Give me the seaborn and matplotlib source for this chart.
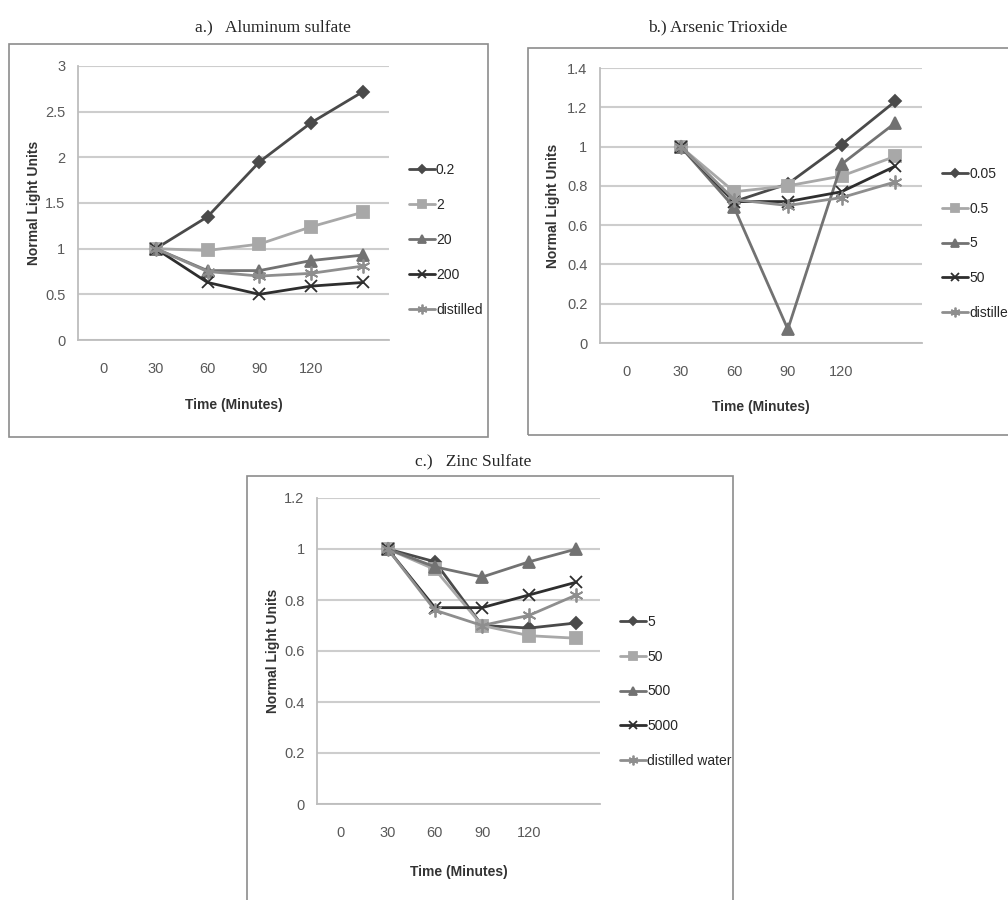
import matplotlib
matplotlib.use("Agg")
import numpy as np
import pandas as pd
import matplotlib.pyplot as plt
import seaborn as sns
from matplotlib.patches import Rectangle
from matplotlib.ticker import FormatStrFormatter

# --------------------------------------------------------------------------
# data
# --------------------------------------------------------------------------
times = [30, 60, 90, 120, 150]
tick_pos = [0, 30, 60, 90, 120]
tick_labels = ["0", "30", "60", "90", "120"]

# a.) Aluminum sulfate
al_series = ["0.2", "2", "20", "200", "distilled"]
al_02 = [1.0, 1.35, 1.95, 2.38, 2.72]
al_2 = [1.0, 0.98, 1.05, 1.24, 1.40]
al_20 = [1.0, 0.76, 0.76, 0.87, 0.93]
al_200 = [1.0, 0.63, 0.50, 0.59, 0.63]
al_dist = [1.0, 0.75, 0.70, 0.73, 0.81]

# b.) Arsenic Trioxide
as_series = ["0.05", "0.5", "5", "50", "distilled"]
as_005 = [1.0, 0.72, 0.81, 1.01, 1.23]
as_05 = [1.0, 0.77, 0.80, 0.85, 0.95]
as_5 = [1.0, 0.69, 0.07, 0.91, 1.12]
as_50 = [1.0, 0.72, 0.72, 0.77, 0.90]
as_dist = [1.0, 0.73, 0.70, 0.74, 0.82]

# c.) Zinc Sulfate
zn_series = ["5", "50", "500", "5000", "distilled water"]
zn_5 = [1.0, 0.95, 0.70, 0.69, 0.71]
zn_50 = [1.0, 0.92, 0.70, 0.66, 0.65]
zn_500 = [1.0, 0.93, 0.89, 0.95, 1.00]
zn_5000 = [1.0, 0.77, 0.77, 0.82, 0.87]
zn_dist = [1.0, 0.76, 0.70, 0.74, 0.82]

# Excel-ish grey series styles
SERIES_COLORS = ["#4a4a4a", "#a8a8a8", "#727272", "#2e2e2e", "#8e8e8e"]
SNS_MARKERS = ["D", "s", "^", "X", "P"]      # seaborn wants all filled
MARKERS = ["D", "s", "^", "x", (6, 2, 0)]    # swapped in afterwards
MSIZES = [6, 8, 8, 9, 10]

SANS = ["Liberation Sans", "DejaVu Sans"]
SERIF = ["Liberation Serif", "DejaVu Serif"]

W, H = 1008, 900

sns.set_style("white")
plt.rcParams["font.family"] = SANS


def long_df(series, values):
    rows = []
    for name, vals in zip(series, values):
        for t, v in zip(times, vals):
            rows.append({"time": t, "value": v, "series": name})
    return pd.DataFrame(rows)


def px_axes(fig, l, t, r, b):
    return fig.add_axes([l / W, 1 - b / H, (r - l) / W, (b - t) / H])


def border(fig, l, t, r, b):
    fig.add_artist(Rectangle((l / W, 1 - b / H), (r - l) / W, (b - t) / H,
                             transform=fig.transFigure, fill=False,
                             ec="#8c8c8c", lw=1.2, clip_on=False))


def style_marker(line, marker, ms):
    line.set_marker(marker)
    line.set_markeredgecolor(line.get_color())
    line.set_markerfacecolor(line.get_color())
    line.set_markersize(ms)
    line.set_markeredgewidth(1.3)


def draw_panel(ax, series, values, ymax, ystep, leg_xy, xlab_y, ylab_x):
    df = long_df(series, values)
    sns.lineplot(data=df, x="time", y="value", hue="series", style="series",
                 hue_order=series, style_order=series,
                 palette=dict(zip(series, SERIES_COLORS)),
                 markers=dict(zip(series, SNS_MARKERS)), dashes=False,
                 lw=2, ax=ax, sort=False)
    for line, mk, ms in zip(ax.lines, MARKERS, MSIZES):
        style_marker(line, mk, ms)
        line.set_clip_on(False)

    handles, labels = ax.get_legend_handles_labels()
    if ax.get_legend() is not None:
        ax.get_legend().remove()
    for h, mk, ms in zip(handles, MARKERS, MSIZES):
        style_marker(h, mk, ms * 0.7)
        h.set_linewidth(2)
    ax.legend(handles, labels, loc="center left", bbox_to_anchor=leg_xy,
              frameon=False, borderaxespad=0, borderpad=0, handlelength=1.9,
              handletextpad=0.05, labelspacing=1.5,
              prop={"family": SANS, "size": 10})

    ax.set_xlim(-15, 165)
    ax.set_ylim(0, ymax)
    ax.set_xticks(tick_pos)
    ax.set_xticklabels(tick_labels)
    ax.set_xticks([-15, 15, 45, 75, 105, 135, 165], minor=True)
    ax.set_yticks(np.arange(0, ymax + ystep / 2, ystep))
    ax.yaxis.set_major_formatter(FormatStrFormatter("%g"))
    ax.tick_params(axis="x", which="major", length=0, pad=16,
                   labelsize=10.5, labelcolor="#595959")
    ax.tick_params(axis="x", which="minor", length=5, width=1,
                   color="#bdbdbd", direction="out")
    ax.tick_params(axis="y", length=5, width=1, color="#bdbdbd",
                   direction="out", pad=4, labelsize=10.5, labelcolor="#595959")

    ax.yaxis.grid(True, color="#cdcdcd", lw=1.5)
    ax.set_axisbelow(True)
    ax.set_facecolor("none")
    for side in ["top", "right"]:
        ax.spines[side].set_visible(False)
    for side in ["left", "bottom"]:
        ax.spines[side].set_color("#bdbdbd")
        ax.spines[side].set_linewidth(1.3)

    ax.set_xlabel("Time (Minutes)", fontsize=10, fontweight="bold",
                  color="#333333")
    ax.set_ylabel("Normal Light Units", fontsize=10, fontweight="bold",
                  color="#333333")
    ax.xaxis.set_label_coords(0.5, xlab_y)
    ax.xaxis.label.set_va("center")
    ax.yaxis.set_label_coords(ylab_x, 0.5)
    ax.yaxis.label.set_va("center")


fig = plt.figure(figsize=(W / 100, H / 100), dpi=100)

# panel frames
border(fig, 9, 44, 488, 437)
border(fig, 528, 48, 1030, 435)
border(fig, 247, 476, 733, 920)

# panel titles
fig.text(273 / W, 1 - 27 / H, "a.)   Aluminum sulfate", ha="center",
         va="center", fontsize=12.5, family=SERIF)
fig.text(718 / W, 1 - 27 / H, "b.) Arsenic Trioxide", ha="center",
         va="center", fontsize=12.5, family=SERIF)
fig.text(473 / W, 1 - 461 / H, "c.)   Zinc Sulfate", ha="center",
         va="center", fontsize=12.5, family=SERIF)

ax_a = px_axes(fig, 78, 66, 389, 340)
draw_panel(ax_a, al_series, [al_02, al_2, al_20, al_200, al_dist],
           3, 0.5, (1.064, 0.365), -65 / 274, -0.14)

ax_b = px_axes(fig, 600, 68, 922, 343)
draw_panel(ax_b, as_series, [as_005, as_05, as_5, as_50, as_dist],
           1.4, 0.2, (1.062, 0.362), -64 / 275, -0.146)

ax_c = px_axes(fig, 317, 498, 600, 804)
draw_panel(ax_c, zn_series, [zn_5, zn_50, zn_500, zn_5000, zn_dist],
           1.2, 0.2, (1.071, 0.368), -68 / 306, -0.155)

fig.savefig("out.png", dpi=100)
